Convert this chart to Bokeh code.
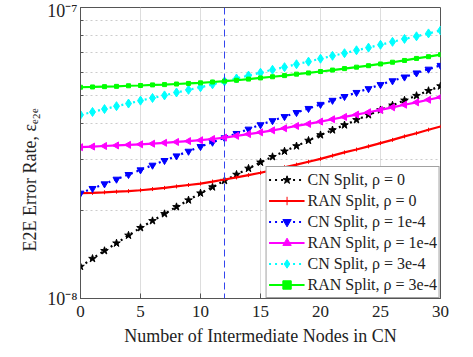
import math
from bokeh.plotting import figure
from bokeh.models import FixedTicker, Span, CustomJSTickFormatter
from bokeh.embed import file_html
from bokeh.resources import INLINE

# ---------------- data ----------------
n_nodes = list(range(31))
scale = 1e-8  # values below are in units of 1e-8

cn_rho0 = [1.288, 1.371, 1.459, 1.549, 1.648, 1.750, 1.849, 1.954, 2.065, 2.178,
           2.301, 2.415, 2.541, 2.667, 2.799, 2.938, 3.069, 3.206, 3.342, 3.491,
           3.648, 3.793, 3.945, 4.111, 4.276, 4.446, 4.613, 4.797, 4.977, 5.176, 5.370]
ran_rho0 = [2.301, 2.307, 2.317, 2.328, 2.339, 2.355, 2.377, 2.399, 2.427, 2.455,
            2.483, 2.523, 2.564, 2.606, 2.655, 2.704, 2.761, 2.825, 2.884, 2.951,
            3.020, 3.097, 3.177, 3.251, 3.334, 3.420, 3.508, 3.606, 3.698, 3.802, 3.899]
cn_rho1 = [2.301, 2.388, 2.477, 2.570, 2.667, 2.767, 2.871, 2.979, 3.090, 3.206,
           3.327, 3.443, 3.565, 3.690, 3.819, 3.954, 4.083, 4.217, 4.355, 4.498,
           4.645, 4.797, 4.943, 5.105, 5.260, 5.433, 5.598, 5.768, 5.957, 6.138, 6.324]
ran_rho1 = [3.311, 3.327, 3.342, 3.357, 3.373, 3.388, 3.404, 3.428, 3.451, 3.475,
            3.499, 3.532, 3.573, 3.622, 3.673, 3.724, 3.784, 3.846, 3.917, 3.981,
            4.055, 4.130, 4.207, 4.285, 4.365, 4.446, 4.539, 4.634, 4.721, 4.819, 4.920]
cn_rho3 = [4.276, 4.375, 4.477, 4.581, 4.677, 4.786, 4.887, 4.989, 5.105, 5.212,
           5.321, 5.445, 5.572, 5.702, 5.834, 5.970, 6.109, 6.237, 6.383, 6.516,
           6.668, 6.823, 6.966, 7.129, 7.278, 7.447, 7.621, 7.798, 7.962, 8.147, 8.337]
ran_rho3 = [5.321, 5.333, 5.346, 5.358, 5.383, 5.395, 5.420, 5.433, 5.458, 5.483,
            5.508, 5.546, 5.585, 5.623, 5.675, 5.728, 5.781, 5.834, 5.902, 5.957,
            6.026, 6.095, 6.166, 6.237, 6.310, 6.397, 6.486, 6.577, 6.683, 6.776, 6.887]

x_ticks = [0, 5, 10, 15, 20, 25, 30]
y_major = [1e-8, 1e-7]
y_minor = [2e-8, 3e-8, 4e-8, 5e-8, 6e-8, 7e-8, 8e-8, 9e-8]
marker_x = 12

labels = ["CN Split, ρ = 0", "RAN Split, ρ = 0",
          "CN Split, ρ = 1e-4", "RAN Split, ρ = 1e-4",
          "CN Split, ρ = 3e-4", "RAN Split, ρ = 3e-4"]
series = [cn_rho0, ran_rho0, cn_rho1, ran_rho1, cn_rho3, ran_rho3]

FONT = "Liberation Serif"

p = figure(width=473, height=357, y_axis_type="log",
           x_range=(0, 30), y_range=(1e-8, 1e-7),
           output_backend="svg", toolbar_location=None,
           min_border_left=80, min_border_right=33,
           min_border_top=7, min_border_bottom=59)
p.background_fill_color = "white"
p.border_fill_color = "white"
p.outline_line_color = "#555555"
p.outline_line_width = 1

# axes
p.xaxis.ticker = FixedTicker(ticks=x_ticks)
p.yaxis.ticker = FixedTicker(ticks=y_major, minor_ticks=y_minor)
for ax in (p.xaxis[0], p.yaxis[0]):
    ax.axis_line_color = "#555555"
    ax.major_tick_line_color = "#555555"
    ax.minor_tick_line_color = "#555555"
    ax.major_tick_in = 5
    ax.major_tick_out = 0
    ax.minor_tick_in = 3
    ax.minor_tick_out = 0
    ax.major_label_text_font = FONT
    ax.major_label_text_color = "#222222"
    ax.axis_label_text_font = FONT
    ax.axis_label_text_font_size = "18px"
    ax.axis_label_text_font_style = "normal"
    ax.axis_label_text_color = "#222222"
p.xaxis.major_label_text_font_size = "17px"
p.xaxis.major_label_standoff = 7
p.xaxis.axis_label = "Number of Intermediate Nodes in CN"
p.xaxis.axis_label_standoff = 6

p.yaxis.formatter = CustomJSTickFormatter(
    code="return tick < 5e-8 ? '10\u207b\u2078' : '10\u207b\u2077';")
p.yaxis.major_label_text_font_size = "18px"
p.yaxis.major_label_standoff = 3
p.yaxis.axis_label_standoff = 4
# trailing em spaces shift the centred label towards the bottom of the axis
p.yaxis.axis_label = "E2E Error Rate, \u03b5\u2091\u2082\u2091\u2003\u2003\u2003"

# grids
p.xgrid.ticker = FixedTicker(ticks=x_ticks)
p.xgrid.grid_line_color = "#dddddd"
p.xgrid.grid_line_width = 1
p.ygrid.ticker = FixedTicker(ticks=y_major, minor_ticks=y_minor)
p.ygrid.grid_line_color = None
p.ygrid.minor_grid_line_color = "#cccccc"
p.ygrid.minor_grid_line_dash = "2 3"

# series
styles = [
    dict(color="black", dash="dotted", marker="star", size=8, angle=0.0),
    dict(color="red", dash="solid", marker="cross", size=4, angle=0.0),
    dict(color="blue", dash="dotted", marker="inverted_triangle", size=7, angle=0.0),
    dict(color="magenta", dash="solid", marker="triangle", size=7, angle=math.pi / 2),
    dict(color="cyan", dash="dotted", marker="diamond", size=9, angle=0.0),
    dict(color="lime", dash="solid", marker="square", size=4, angle=0.0),
]
for vals, name, st in zip(series, labels, styles):
    ys = [v * scale for v in vals]
    p.line(n_nodes, ys, line_color=st["color"], line_width=2.2,
           line_dash=st["dash"], legend_label=name)
    p.scatter(n_nodes, ys, marker=st["marker"], size=st["size"],
              angle=st["angle"], fill_color=st["color"], line_color=st["color"],
              legend_label=name)

p.add_layout(Span(location=marker_x, dimension="height", line_color="#3344ee",
                  line_width=1, line_dash="7 4"))

# legend
lg = p.legend[0]
lg.location = "bottom_right"
lg.margin = 0
lg.padding = 2
lg.spacing = 0
lg.label_height = 21
lg.glyph_height = 21
lg.glyph_width = 36
lg.label_standoff = 3
lg.label_text_font = FONT
lg.label_text_font_size = "16px"
lg.label_text_color = "#222222"
lg.border_line_color = "#444444"
lg.border_line_width = 1
lg.background_fill_alpha = 1.0

open("out.html", "w").write(file_html(p, INLINE))
